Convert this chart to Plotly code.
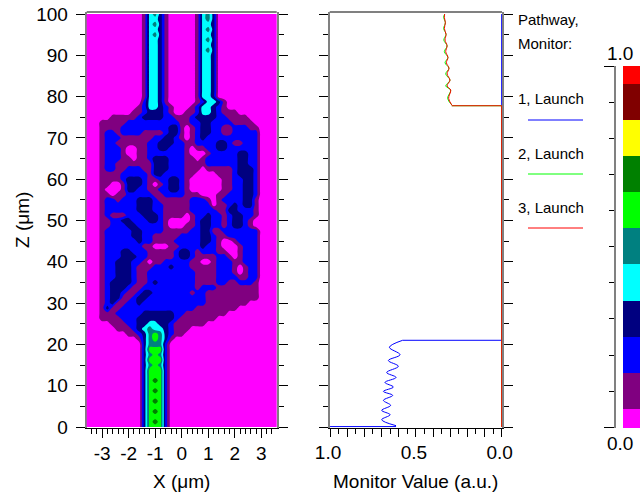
import numpy as np
import plotly.graph_objects as go

W, H = 640, 495

# Field intensity in tenths. Rows run from Z=100 (top) to Z=0,
# columns from X=-3.6 to X=3.6.
FIELD_ROWS = [
"00000000000 14531 00000 1453 000000000000",
"00000000000 14431 00000 1453 000000000000",
"00000000000 14531 00000 1443 000000000000",
"00000000000 14431 00000 1453 000000000000",
"00000000000 14531 00000 1443 000000000000",
"00000000000 14431 00000 1453 000000000000",
"00000000000 14431 00000 1443 000000000000",
"00000000000 14431 00000 1453 000000000000",
"00000000000 14431 00000 1443 000000000000",
"00000000000 14431 00000 1443 000000000000",
"00000000000 14431 00000 1443 000000000000",
"00000000000 14431 00000 1443 000000000000",
"00000000000 14431 00000 1443 000000000000",
"00000000000 14431 00000 1443 000000000000",
"00000000000 14431 00000 1443 000000000000",
"00000000000 14431 00000 1443 000000000000",
"00000000000 14431 00000 1443 000000000000",
"00000000000 244310 0000 12443 1 0000000000",
"0000000000 1244321 000 1244321 0000000000",
"000000000 11233321 00 1124432111 00000000",
"00000 1111 1 2 3333 22 111 2 3333 22 1111 000000",
"000 11111 2222222222 11 2 2 33 2222 1111 00000",
"000 1111 222222222 33 1 0 1 2 33 22 11 222 11 0000",
"000 1 22 1 2222 1111 2 33 1 0 1 2 33 22 11 2222 2 0000",
"000 1 222 111111 22 33 2 1 0 1 2 32 2222222 2 2 0000",
"000 1 22 111111 22 333 22 11 2222 33 2 11 22 2 0000",
"000 1 222 1 00 11 22 33 222 1 0 11 22 33 22222 2 0000",
"000 1 222 1 00 11 2222222 1 000 1 22222 33 2 2 0000",
"000 1 222 11 0 11 2 333 222 1 1 0 1 222222 33 2 2 0000",
"000 1 22 1111111 333 222 1111 222222 33 2 2 0000",
"000 1 22 11 222 11 333 222 111 0 11111 2 333 2 0000",
"000 1111 22222 1 33 2222 11 0000 111 2 333 2 0000",
"000 111 1 2 333 2 11 22 33 2 1 000000 11 22 33 2 0000",
"000 11 00 1 333 2 1 0 1 2 33 2 1 000000 11 22 33 2 0000",
"000 1 000 1 33 22 11 22 33 2 1 000000 11 22 33 2 0000",
"000 11 0 11 22222 11 222 2 111 000 11 222 33 2 0000",
"000 1 22 1 222 333 2 111111 222 1 0 1 2222 33 1 0000",
"000 1 222 222 333 22 11111 2222 0 1 1 2 3 2 33 1 0000",
"000 1 222222 333 22 11111 22222 11 33 222 1 0000",
"000 1 2 111 222 333 2 11 1 1 0 1 22 3 22 1 2 33 22 1 0000",
"000 1 1 22 33 222 33 2 1 0000 1 2 33 22 1 2 33 2 1 0 0000",
"000 11 222 33 22222 1 000 11 2 33 22 1 2 33 2 1 0 0000",
"000 1 22222 33 2222 11111 22 33 11 222222 2 0000",
"000 1 22222 33 22 11111 2222 33 2 11 22222 2 0000",
"000 1 222222 3 22 1111 22222 33 2 1 00 1 222 2 0000",
"000 1 2222222 11 000 11 2222 3 22 1 000 1 22 2 0000",
"000 1 222 33 222 11111 2 33 2 1 222 11 00 1 22 2 0000",
"000 1 222 333 22 11111 2 33 2 1111 22 1 0 1 22 2 0000",
"000 1 22 333 22 1 0 11 22222 11 00 1 222 11 22 2 0000",
"000 1 22 333 2 111 222 3 222 11111 222 1 0 1 2 2 0000",
"000 1 22 33 3 2 11 222222222 1111 222 1 0 1 2 2 0000",
"000 1 22 333 2 11 222222222 1111 2222 11 2 2 0000",
"000 1 2 3333 2 11 2 3 222222 2 1111 22 11 222 1 0000",
"000 1 2 333 2 11 2222222222 1 222 11111111 0000",
"000 1 2 33 2 11 2 33 2222222 1 22 1111111111 0000",
"000 1 2 33 11 2 33 2222222222 2 1111111111 0000",
"000 1 2 3 11 22 3 22222222222 2 11111111 000000",
"000 1 3 11 2222222222222 2 11111111 00000000",
"000 1 11 22222 333333 22 11111111 0000000000",
"000 1111 222 3333333 2 1111111 000000000000",
"00000 111 22 33 44 33 2 111111 00000000000000",
"000000 111 2 3 4 5 44 3 2 111 00000000000000000",
"00000000 11 2 3 5 6 5 3 2 11 000000000000000000",
"0000000000 1 3 5 6 5 3 1 00000000000000000000",
"00000000000 35552 000000000000000000000",
"00000000000 36662 000000000000000000000",
"00000000000 35652 000000000000000000000",
"00000000000 36662 000000000000000000000",
"00000000000 35652 000000000000000000000",
"00000000000 36662 000000000000000000000",
"00000000000 36662 000000000000000000000",
"00000000000 36762 000000000000000000000",
"00000000000 36662 000000000000000000000",
"00000000000 36762 000000000000000000000",
"00000000000 36662 000000000000000000000",
"00000000000 36762 000000000000000000000",
"00000000000 36662 000000000000000000000",
"00000000000 36762 000000000000000000000",
"00000000000 36662 000000000000000000000",
"00000000000 36762 000000000000000000000",
"00000000000 36662 000000000000000000000",
]

FIELD_X = [round(-3.6 + 0.2 * c, 1) for c in range(37)]
FIELD_Z = [100 - 1.25 * i for i in range(81)]

# Monitor curves (value, Z)
P1_WAVE_V = [.6155, .699, .650, .699, .647, .689, .635, .689, .631, .680, .6155, .670, .602, .660, .592, .654, .577]
P1_WAVE_Z = [.32, 1.77, 2.98, 4.03, 5.24, 6.45, 7.66, 8.63, 9.68, 10.8, 12.0, 13.2, 14.7, 16.1, 17.5, 19.3, 21.0]
P1_STEP_V = [1.0, .6155, None, .577, 0.0, 0.0]
P1_STEP_Z = [.1, .1, None, 21.0, 21.0, 100.0]

P23_WAVE_Z = [78.0, 79.6, 81.6, 82.6, 84.0, 85.5, 86.9, 88.2, 89.5, 90.9, 92.3, 93.7, 95.1, 96.5, 97.9, 99.2, 100.0]
P2_WAVE_V = [.291, .315, .297, .326, .301, .326, .307, .330, .313, .334, .318, .337, .324, .338, .328, .338, .332]
P3_WAVE_V = [.291, .309, .297, .318, .301, .318, .307, .322, .313, .326, .318, .330, .324, .334, .328, .334, .332]
P23_STEP_V = [0.0, 0.0, .291]
P23_STEP_Z = [0.0, 77.8, 77.8]

BAND_VALUES = [0, .1, .2, .3, .4, .5, .6, .7, .8, .9, 1.0]
BAND_COLORS = ["#ff00ff", "#800080", "#0000ff", "#000080", "#00ffff", "#008080",
               "#00ff00", "#008000", "#ffff00", "#800000", "#ff0000"]

X1_TICKS = [-3, -2, -1, 0, 1, 2, 3]
X1_LABELS = ["-3", "-2", "-1", "0", "1", "2", "3"]
Z_TICKS = list(range(0, 101, 10))
X2_TICKS = [1.0, .9, .8, .7, .6, .5, .4, .3, .2, .1, 0.0]
X2_LABELS = ["1.0", "", "", "", "", "0.5", "", "", "", "", "0.0"]

SERIES_BLUE, SERIES_GREEN, SERIES_RED = "#0000ff", "#00ff00", "#ff0000"

field = [[int(ch) / 10 for ch in row.replace(" ", "")] for row in FIELD_ROWS]
for n, r in enumerate(field):
    if len(r) != 37:
        print("row", n, "len", len(r))
    r += [0.0] * 37
    del r[37:]

edges = [0, .05, .15, .25, .35, .45, .55, .65, .75, .85, .95, 1]
scale = []
for k, col in enumerate(BAND_COLORS):
    scale += [[edges[k], col], [edges[k + 1], col]]

FONT = "Liberation Sans, Arial, sans-serif"
TICK = dict(size=19, color="#000000", family=FONT)


def px_x(x):
    return x / W


def px_y(y):
    return 1 - y / H


fig = go.Figure()
fig.add_trace(go.Contour(
    x=FIELD_X, y=FIELD_Z, z=field, xaxis="x", yaxis="y",
    colorscale=scale, zmin=0, zmax=1, autocontour=False, showscale=False,
    contours=dict(start=.05, end=.95, size=.1, coloring="fill", showlines=False),
    line=dict(width=0), hoverinfo="skip",
))

fig.add_trace(go.Scatter(x=P1_STEP_V, y=P1_STEP_Z, xaxis="x2", yaxis="y2", mode="lines",
                         line=dict(color=SERIES_BLUE, width=1)))
fig.add_trace(go.Scatter(x=P1_WAVE_V, y=P1_WAVE_Z, xaxis="x2", yaxis="y2", mode="lines",
                         line=dict(color=SERIES_BLUE, width=1, shape="spline", smoothing=1)))
for v, c in ((P2_WAVE_V, SERIES_GREEN), (P3_WAVE_V, SERIES_RED)):
    fig.add_trace(go.Scatter(x=P23_STEP_V, y=P23_STEP_Z, xaxis="x2", yaxis="y2", mode="lines",
                             line=dict(color=c, width=1)))
    fig.add_trace(go.Scatter(x=v, y=P23_WAVE_Z, xaxis="x2", yaxis="y2", mode="lines",
                             line=dict(color=c, width=1, shape="spline", smoothing=1)))

fig.add_trace(go.Heatmap(
    x=[0], y=BAND_VALUES, z=[[v] for v in BAND_VALUES], xaxis="x3", yaxis="y3",
    colorscale=scale, zmin=0, zmax=1, showscale=False, hoverinfo="skip",
))

GRAY = "#808080"
Y_DOM = [px_y(427.5), px_y(12)]
Y_RANGE = [-0.12, 100.5]
zaxis = dict(
    domain=Y_DOM, range=Y_RANGE, showgrid=False, zeroline=False, showline=True, linecolor=GRAY,
    linewidth=2, mirror="allticks", ticks="outside", ticklen=9, tickcolor="#000000", tickwidth=1,
    tickmode="array", tickvals=Z_TICKS,
    minor=dict(dtick=5, tick0=0, ticks="outside", ticklen=5, tickcolor="#000000", tickwidth=1, showgrid=False),
    layer="below traces",
)
fig.update_layout(
    width=W, height=H, autosize=False, margin=dict(l=0, r=0, t=0, b=0, pad=0, autoexpand=False),
    paper_bgcolor="#ffffff", plot_bgcolor="#ffffff", showlegend=False,
    font=dict(family=FONT, color="#000000"),
    xaxis=dict(domain=[px_x(86.7), px_x(276.7)], range=[-3.58, 3.58], anchor="y", showgrid=False, zeroline=False,
               showline=True, linecolor="#000000", linewidth=1, ticks="outside", ticklen=9, tickcolor="#000000",
               tickmode="array", tickvals=X1_TICKS, ticktext=X1_LABELS, tickfont=TICK,
               minor=dict(dtick=.2, tick0=0, ticks="outside", ticklen=5, tickcolor="#000000", showgrid=False)),
    yaxis=dict(**zaxis, anchor="x", tickfont=TICK, ticklabelstandoff=4),
    xaxis2=dict(domain=[px_x(329.7), px_x(502)], range=[1.002, -0.002], anchor="y2", showgrid=False, zeroline=False,
                showline=True, linecolor="#000000", linewidth=1, ticks="outside", ticklen=8, tickcolor="#000000",
                tickmode="array", tickvals=X2_TICKS, ticktext=X2_LABELS, tickfont=TICK, ticklabelshift=2,
                minor=dict(dtick=.05, tick0=0, ticks="outside", ticklen=5, tickcolor="#000000", showgrid=False)),
    yaxis2=dict(**zaxis, anchor="x2", showticklabels=False),
    xaxis3=dict(domain=[px_x(623), 1], range=[-.5, .5], anchor="y3", visible=False),
    yaxis3=dict(domain=[px_y(428), px_y(66)], range=[-0.002, 1.0], anchor="free", position=px_x(615), side="left",
                showgrid=False, zeroline=False, showline=True, linecolor=GRAY, linewidth=2, ticks="outside",
                ticklen=10, tickcolor="#000000", tickmode="array", tickvals=[0, 1], showticklabels=False,
                minor=dict(dtick=.1, tick0=0, ticks="outside", ticklen=5, tickcolor="#000000", showgrid=False)),
)

shapes = []
for xr in ("x domain", "x2 domain"):
    yr = "y domain" if xr[1] == " " else "y2 domain"
    shapes.append(dict(type="line", xref=xr, yref=yr, x0=0, x1=1, y0=1, y1=1, line=dict(color=GRAY, width=2), layer="above"))
for y, c in ((120, SERIES_BLUE), (174, SERIES_GREEN), (228, SERIES_RED)):
    shapes.append(dict(type="line", xref="paper", yref="paper", x0=px_x(528), x1=px_x(583), y0=px_y(y), y1=px_y(y),
                       line=dict(color=c, width=1)))
fig.update_layout(shapes=shapes)


def label(text, x, y, size=15, anchor="left", angle=0):
    fig.add_annotation(text=text, x=px_x(x), y=px_y(y), xref="paper", yref="paper", showarrow=False,
                       xanchor=anchor, yanchor="middle", textangle=angle, font=dict(size=size, family=FONT, color="#000000"))


label("X (μm)", 181, 481, 19, "center")
label("Z (μm)", 22, 220, 19, "center", -90)
label("Monitor Value (a.u.)", 415, 481, 19, "center")
label("Pathway,", 515.5, 19)
label("Monitor:", 515.5, 43)
label("1, Launch", 515.5, 99)
label("2, Launch", 515.5, 153.5)
label("3, Launch", 515.5, 207.5)
label("1.0", 620, 53, 19, "center")
label("0.0", 620, 443, 19, "center")

fig.write_html("out.html", config=dict(displayModeBar=False),
               post_script="document.body.style.margin='0';document.documentElement.style.overflow='hidden';")
